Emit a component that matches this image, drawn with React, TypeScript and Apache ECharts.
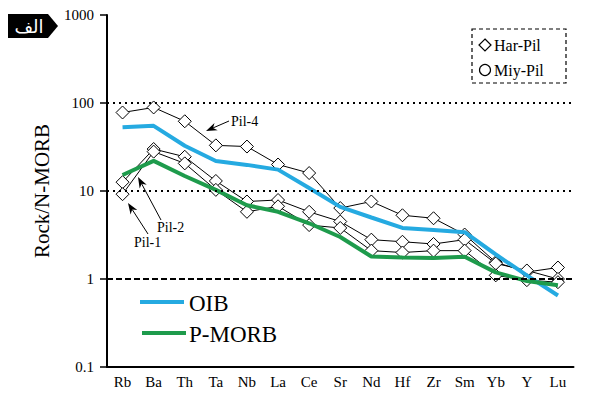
import React, { useEffect, useRef } from "react";
import * as echarts from "echarts";

const categories = ["Rb", "Ba", "Th", "Ta", "Nb", "La", "Ce", "Sr", "Nd", "Hf", "Zr", "Sm", "Yb", "Y", "Lu"];
const pil4 = [78, 89, 62, 33, 32, 20, 16, 6.4, 7.6, 5.3, 4.9, 3.2, 1.55, 1.2, 1.35];
const pil2 = [12.6, 30, 24.5, 13, 7.6, 7.9, 5.8, 4.5, 2.8, 2.65, 2.5, 2.8, 1.5, 1.25, 1.0];
const pil1 = [9.2, 28, 20.6, 10.3, 5.8, 6.7, 4.1, 3.8, 2.1, 2.0, 2.1, 2.1, 1.1, 0.97, 0.92];
const oib = [53, 55, 32.7, 21.9, 19.8, 17.5, 10.8, 6.6, 5.0, 3.8, 3.6, 3.4, 1.9, 1.1, 0.65];
const pmorb = [15.2, 22, 14.8, 10.3, 6.9, 5.8, 4.3, 3.0, 1.8, 1.76, 1.73, 1.79, 1.19, 0.95, 0.85];
const yTicks = [0.1, 1, 10, 100, 1000];

const SERIF = "Liberation Serif";

function txt(text: string, x: number, y: number, size: number) {
  return {
    type: "text",
    x,
    y,
    style: { text, fill: "#000", fontSize: size, fontFamily: SERIF, verticalAlign: "middle" },
  };
}

function arrow(x1: number, y1: number, x2: number, y2: number) {
  const dx = x2 - x1, dy = y2 - y1;
  const L = Math.hypot(dx, dy);
  const ux = dx / L, uy = dy / L;
  const hl = 11, hw = 4;
  const bx = x2 - ux * hl, by = y2 - uy * hl;
  const mx = x2 - ux * hl * 0.7, my = y2 - uy * hl * 0.7;
  return [
    { type: "line", shape: { x1, y1, x2: mx, y2: my }, style: { stroke: "#000", lineWidth: 1 } },
    {
      type: "polygon",
      shape: { points: [[x2, y2], [bx - uy * hw, by + ux * hw], [mx, my], [bx + uy * hw, by - ux * hw]] },
      style: { fill: "#000" },
    },
  ];
}

export default function App() {
  const ref = useRef<HTMLDivElement>(null);
  useEffect(() => {
    document.body.style.margin = "0";
    const chart = echarts.init(ref.current!, null, { renderer: "svg" });
    const sample = (name: string, data: number[]) => ({
      name,
      type: "line",
      data,
      symbol: "diamond",
      symbolSize: 13,
      itemStyle: { color: "#fff", borderColor: "#000", borderWidth: 1 },
      lineStyle: { color: "#000", width: 1 },
      z: 3,
    });
    const graphics: any[] = [
      {
        type: "polygon",
        shape: { points: [[8, 14], [48, 14], [58, 26], [48, 38], [8, 38]] },
        style: { fill: "#000" },
      },
      {
        type: "text",
        x: 29,
        y: 26,
        style: { text: "الف", fill: "#fff", fontSize: 18, fontFamily: "DejaVu Sans", align: "center", verticalAlign: "middle" },
      },
      {
        type: "rect",
        shape: { x: 472, y: 29, width: 94, height: 54 },
        style: { fill: "none", stroke: "#000", lineWidth: 1.2, lineDash: [4, 3] },
      },
      {
        type: "polygon",
        shape: { points: [[485, 39], [491, 45], [485, 51], [479, 45]] },
        style: { fill: "#fff", stroke: "#000", lineWidth: 1.2 },
      },
      txt("Har-Pil", 494, 45, 16),
      {
        type: "circle",
        shape: { cx: 485, cy: 70, r: 5.5 },
        style: { fill: "#fff", stroke: "#000", lineWidth: 1.2 },
      },
      txt("Miy-Pil", 494, 70, 16),
      { type: "line", shape: { x1: 140, y1: 302, x2: 184, y2: 302 }, style: { stroke: "#25aae1", lineWidth: 4 } },
      txt("OIB", 189, 303, 23),
      { type: "line", shape: { x1: 142, y1: 333, x2: 186, y2: 333 }, style: { stroke: "#1e9b4c", lineWidth: 4 } },
      txt("P-MORB", 189, 334, 23),
      txt("Pil-4", 231, 121, 14),
      ...arrow(229, 121, 206, 131),
      txt("Pil-2", 157, 227, 14),
      ...arrow(161, 220, 138, 177),
      txt("Pil-1", 134, 242, 14),
      ...arrow(148, 234, 128, 203),
    ];
    chart.setOption({
      animation: false,
      grid: { left: 107, right: 20.5, top: 15, bottom: 27, containLabel: false },
      xAxis: {
        type: "category",
        data: categories,
        boundaryGap: true,
        axisLine: { lineStyle: { color: "#000", width: 2 } },
        axisTick: { alignWithLabel: true, length: 6, lineStyle: { color: "#000", width: 1.5 } },
        axisLabel: { color: "#000", fontFamily: SERIF, fontSize: 15, margin: 7 },
        splitLine: { show: false },
      },
      yAxis: {
        type: "log",
        logBase: 10,
        min: yTicks[0],
        max: yTicks[yTicks.length - 1],
        name: "Rock/N-MORB",
        nameLocation: "middle",
        nameGap: 55,
        nameTextStyle: { color: "#000", fontFamily: SERIF, fontSize: 21 },
        axisLine: { show: true, lineStyle: { color: "#000", width: 2 } },
        axisTick: { show: true, length: 7, lineStyle: { color: "#000", width: 1.5 } },
        axisLabel: { color: "#000", fontFamily: SERIF, fontSize: 15, margin: 13, formatter: (v: number) => String(v) },
        splitLine: { show: false },
        minorTick: { show: false },
      },
      graphic: graphics,
      series: [
        {
          ...sample("Pil-4", pil4),
          markLine: {
            silent: true,
            symbol: "none",
            label: { show: false },
            data: [
              { yAxis: 100, lineStyle: { color: "#000", type: [2, 4], width: 2 } },
              { yAxis: 10, lineStyle: { color: "#000", type: [2, 4], width: 2 } },
              { yAxis: 1, lineStyle: { color: "#000", type: [6, 3], width: 2 } },
            ],
          },
        },
        sample("Pil-2", pil2),
        sample("Pil-1", pil1),
        {
          name: "OIB",
          type: "line",
          data: oib,
          symbol: "none",
          lineStyle: { color: "#25aae1", width: 4 },
          z: 4,
        },
        {
          name: "P-MORB",
          type: "line",
          data: pmorb,
          symbol: "none",
          lineStyle: { color: "#1e9b4c", width: 4 },
          z: 4,
        },
      ],
    });
    return () => chart.dispose();
  }, []);
  return <div ref={ref} style={{ width: 594, height: 394, background: "#fff" }} />;
}
